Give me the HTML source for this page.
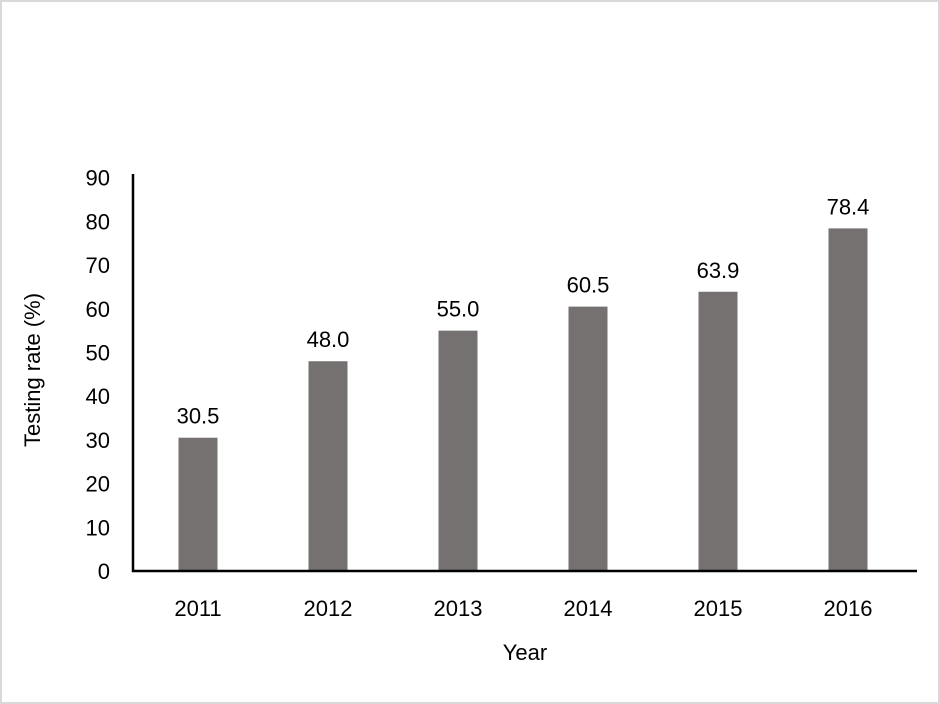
<!DOCTYPE html>
<html><head><meta charset="utf-8"><style>
html,body{margin:0;padding:0;background:#fff;}
svg{display:block;font-family:"Liberation Sans",sans-serif;}
</style></head><body>
<svg width="940" height="704" viewBox="0 0 940 704">
<rect x="1" y="1" width="938" height="702" fill="#fff" stroke="#d9d9d9" stroke-width="2"/>
<g id="plot"></g>
<text x="40" y="370" font-size="22" fill="#000" text-anchor="middle" transform="rotate(-90 40 370)">Testing rate (%)</text>
<text x="525" y="660" font-size="22" fill="#000" text-anchor="middle">Year</text>
</svg>
<script>
const categories = ["2011","2012","2013","2014","2015","2016"];
const values = [30.5,48.0,55.0,60.5,63.9,78.4];
const valueLabels = ["30.5","48.0","55.0","60.5","63.9","78.4"];
const yTicks = [0,10,20,30,40,50,60,70,80,90];
const NS="http://www.w3.org/2000/svg";
const g=document.getElementById('plot');
const y0=571, pxPer=4.37, x0=133, step=130, firstC=198, bw=39;
const y=v=>y0-v*pxPer;
const x=i=>firstC+i*step;
function mk(t,a){const e=document.createElementNS(NS,t);for(const k in a)e.setAttribute(k,a[k]);g.appendChild(e);return e;}
yTicks.forEach(t=>{
 const e=mk('text',{x:110,y:y(t)+8,'font-size':22,'text-anchor':'end',fill:'#000'});
 e.textContent=t;
 
 
});
categories.forEach((c,i)=>{
 const b=mk('rect',{x:x(i)-bw/2,y:y(values[i]),width:bw,height:y0-y(values[i]),fill:'#767171'});
 
 
 const l=mk('text',{x:x(i),y:y(values[i])-14,'font-size':22,'text-anchor':'middle',fill:'#000'});
 l.textContent=valueLabels[i];
 
 
 const xl=mk('text',{x:x(i),y:616,'font-size':22,'text-anchor':'middle',fill:'#000'});
 xl.textContent=c;
 
 
});
const ya=mk('line',{x1:x0,y1:174,x2:x0,y2:y0+1,stroke:'#000','stroke-width':2.5});


const xa=mk('line',{x1:x0-1,y1:y0,x2:917,y2:y0,stroke:'#000','stroke-width':2.5});


</script>
</body></html>
